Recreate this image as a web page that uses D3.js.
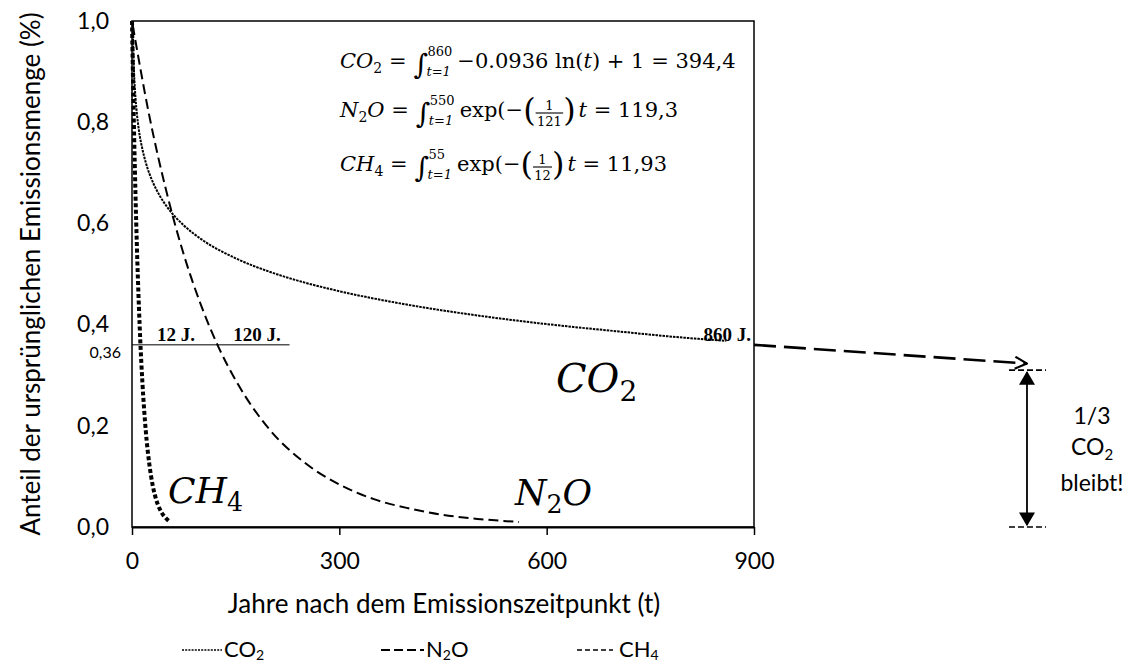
<!DOCTYPE html>
<html><head><meta charset="utf-8">
<script src="https://cdn.jsdelivr.net/npm/d3@7"></script>
<style>
body{margin:0;background:#fff;}
svg text{fill:#000; white-space:pre;}
</style></head>
<body>
<script>
// ---- data ----
const xTicks = [0, 300, 600, 900];
const yTicks = [0, 0.2, 0.4, 0.6, 0.8, 1.0];

const co2T = [1, 1.5, 2, 3, 5, 7, 10, 15, 20, 30, 40, 50, 75, 100, 150, 200, 250, 300, 400, 500, 600, 700, 800, 860];
const co2V = [1.0, 0.962, 0.935, 0.897, 0.849, 0.818, 0.784, 0.747, 0.720, 0.682, 0.655, 0.634, 0.596, 0.569, 0.531, 0.504, 0.483, 0.466, 0.439, 0.418, 0.401, 0.387, 0.374, 0.368];

const n2oT = [1, 25, 50, 75, 100, 125, 150, 200, 250, 300, 350, 400, 450, 500, 560];
const n2oV = [0.992, 0.813, 0.662, 0.538, 0.438, 0.356, 0.290, 0.191, 0.127, 0.084, 0.055, 0.037, 0.024, 0.016, 0.010];

const ch4T = [0, 1, 2, 3, 5, 7, 10, 12, 15, 20, 25, 30, 35, 40, 45, 50, 55];
const ch4V = [1.0, 0.920, 0.846, 0.779, 0.659, 0.558, 0.435, 0.368, 0.287, 0.189, 0.125, 0.082, 0.054, 0.036, 0.024, 0.016, 0.010];

const refLevel = 0.36;
const refLineEnd = 228;
const refLabels = ["12 J.", "120 J.", "860 J."];
const arrowStart = {t: 900, v: 0.36};
const arrowEnd = {t: 1295, v: 0.323};
const remainTop = 0.31;
const remainBottom = 0.0;

const W = 1133, H = 664;
const SANS = "Lato, 'Open Sans', sans-serif";
const MATH = "'DejaVu Serif', 'Liberation Serif', serif";
const BOLDSERIF = "'Liberation Serif', serif";

const svg = d3.select("body").append("svg").attr("width", W).attr("height", H);

const x = d3.scaleLinear().domain([0, 900]).range([132, 754]);
const y = d3.scaleLinear().domain([0, 1]).range([527, 21]);

// frame
svg.append("rect").attr("x", x(0)).attr("y", y(1)).attr("width", x(900) - x(0)).attr("height", y(0) - y(1))
  .attr("fill", "none").attr("stroke", "#000").attr("stroke-width", 1.5);

// x axis
const xa = svg.append("g").attr("transform", `translate(0,${y(0)})`)
  .call(d3.axisBottom(x).tickValues(xTicks).tickSize(8).tickSizeOuter(0).tickPadding(18).tickFormat(d3.format("d")));
xa.select(".domain").attr("stroke-width", 2.2);
xa.selectAll(".tick line").attr("stroke-width", 1.5);
xa.selectAll("text").attr("font-family", SANS).attr("font-size", 23);

// y axis
const ya = svg.append("g").attr("transform", `translate(${x(0)},0)`)
  .call(d3.axisLeft(y).tickValues(yTicks).tickSize(0).tickPadding(23).tickFormat(d => d3.format(".1f")(d).replace(".", ",")));
ya.select(".domain").remove();
ya.selectAll("text").attr("font-family", SANS).attr("font-size", 23);

// axis titles
svg.append("text").attr("x", 444).attr("y", 613).attr("text-anchor", "middle")
  .attr("font-family", SANS).attr("font-size", 26).text("Jahre nach dem Emissionszeitpunkt (t)");
svg.append("text").attr("transform", `translate(40,${(y(0) + y(1)) / 2}) rotate(-90)`).attr("text-anchor", "middle")
  .attr("font-family", SANS).attr("font-size", 26).text("Anteil der ursprünglichen Emissionsmenge (%)");

// curves
const line = d3.line().x(d => x(d[0])).y(d => y(d[1])).curve(d3.curveMonotoneX);
const zip = (a, b) => a.map((v, i) => [v, b[i]]);

svg.append("path").attr("d", line(zip(co2T, co2V))).attr("fill", "none").attr("stroke", "#000")
  .attr("stroke-width", 2).attr("stroke-dasharray", "2.5,1");
svg.append("path").attr("d", line(zip(n2oT, n2oV))).attr("fill", "none").attr("stroke", "#000")
  .attr("stroke-width", 2).attr("stroke-dasharray", "10,5");
svg.append("path").attr("d", line(zip(ch4T, ch4V))).attr("fill", "none").attr("stroke", "#000")
  .attr("stroke-width", 4).attr("stroke-dasharray", "4,2.5");

// reference line 0,36
svg.append("line").attr("x1", x(0)).attr("x2", x(refLineEnd)).attr("y1", y(refLevel)).attr("y2", y(refLevel))
  .attr("stroke", "#000").attr("stroke-width", 1);
svg.append("text").attr("x", 121).attr("y", y(refLevel) + 13).attr("text-anchor", "end")
  .attr("font-family", SANS).attr("font-size", 16).text("0,36");
const refPos = [{px: 176, a: "middle"}, {px: 257, a: "middle"}, {px: 751, a: "end"}];
refLabels.forEach((r, i) => {
  svg.append("text").attr("x", refPos[i].px).attr("y", y(refLevel) - 4).attr("text-anchor", refPos[i].a)
    .attr("font-family", BOLDSERIF).attr("font-weight", "bold").attr("font-size", 19).text(r);
});

// big italic labels
function chemLabel(px, py, parts, size) {
  const t = svg.append("text").attr("x", px).attr("y", py).attr("font-family", MATH).attr("font-size", size).attr("font-style", "italic");
  let down = false;
  parts.forEach(p => {
    if (p.sub) {
      t.append("tspan").attr("dy", size * 0.22).attr("font-size", size * 0.7).attr("font-style", "normal").text(p.text);
      down = true;
    } else {
      const s = t.append("tspan").text(p.text);
      if (down) { s.attr("dy", -size * 0.22); down = false; }
    }
  });
  return t;
}
chemLabel(556, 392, [{text: "CO"}, {text: "2", sub: true}], 40);
chemLabel(168, 503, [{text: "CH"}, {text: "4", sub: true}], 36);
chemLabel(515, 505, [{text: "N"}, {text: "2", sub: true}, {text: "O"}], 36);

// formulas
const FS = 21;
function piece(px, py, str, opts = {}) {
  const t = svg.append("text").attr("x", px).attr("y", py).attr("font-family", MATH)
    .attr("font-size", opts.size || FS).attr("font-style", opts.italic ? "italic" : "normal").text(str);
  if (opts.anchor) t.attr("text-anchor", opts.anchor);
  return px + t.node().getComputedTextLength();
}
function lhs(px, py, parts) {
  let cx = px;
  parts.forEach(p => {
    if (p.sub) cx = piece(cx, py + 5, p.text, {size: 14});
    else cx = piece(cx, py, p.text, {italic: true});
  });
  return piece(cx, py, " =");
}
function integral(px, py, upper) {
  piece(px, py + 6, "\u222B", {size: 28});
  const e1 = piece(px + 14, py - 12, upper, {size: 13});
  const e2 = piece(px + 13, py + 8, "t=1", {size: 13, italic: true});
  return Math.max(e1, e2);
}
function frac(px, py, den) {
  let cx = piece(px, py + 4, "(", {size: 32});
  const w = den.length * 8.5 + 2;
  piece(cx + w / 2, py - 7, "1", {size: 13, anchor: "middle"});
  svg.append("line").attr("x1", cx).attr("x2", cx + w).attr("y1", py - 4).attr("y2", py - 4).attr("stroke", "#000").attr("stroke-width", 1.1);
  piece(cx + w / 2, py + 9, den, {size: 13, anchor: "middle"});
  return piece(cx + w, py + 4, ")", {size: 32});
}
function formula(fy, left, upper, body) {
  let cx = lhs(340, fy, left);
  cx = integral(cx + 7, fy, upper);
  body(cx + 5);
}

formula(68, [{text: "CO"}, {text: "2", sub: true}], "860", bx => {
  let cx = piece(bx, 68, "\u22120.0936 ln(");
  cx = piece(cx, 68, "t", {italic: true});
  piece(cx, 68, ") + 1 = 394,4");
});
formula(117, [{text: "N"}, {text: "2", sub: true}, {text: "O"}], "550", bx => {
  let cx = piece(bx, 117, "exp(\u2212");
  cx = frac(cx, 117, "121");
  cx = piece(cx + 3, 117, "t", {italic: true});
  piece(cx, 117, " = 119,3");
});
formula(171, [{text: "CH"}, {text: "4", sub: true}], "55", bx => {
  let cx = piece(bx, 171, "exp(\u2212");
  cx = frac(cx, 171, "12");
  cx = piece(cx + 3, 171, "t", {italic: true});
  piece(cx, 171, " = 11,93");
});

// long dashed arrow to the right
const defs = svg.append("defs");
defs.append("marker").attr("id", "open").attr("viewBox", "0 0 14 14").attr("refX", 13).attr("refY", 7)
  .attr("markerWidth", 14).attr("markerHeight", 14).attr("markerUnits", "userSpaceOnUse").attr("orient", "auto")
  .append("path").attr("d", "M1,1 L13,7 L1,13").attr("fill", "none").attr("stroke", "#000").attr("stroke-width", 2.2);
defs.append("marker").attr("id", "tri").attr("viewBox", "0 0 12 14").attr("refX", 11).attr("refY", 7)
  .attr("markerWidth", 16).attr("markerHeight", 16).attr("markerUnits", "userSpaceOnUse").attr("orient", "auto-start-reverse")
  .append("path").attr("d", "M0,0 L12,7 L0,14 Z").attr("fill", "#000");

svg.append("line").attr("x1", x(arrowStart.t)).attr("y1", y(arrowStart.v)).attr("x2", x(arrowEnd.t)).attr("y2", y(arrowEnd.v))
  .attr("stroke", "#000").attr("stroke-width", 2.6).attr("stroke-dasharray", "22,8").attr("marker-end", "url(#open)");

const bxp = x(arrowEnd.t);
[remainTop, remainBottom].forEach(v => {
  svg.append("line").attr("x1", bxp - 18).attr("x2", bxp + 19).attr("y1", y(v)).attr("y2", y(v))
    .attr("stroke", "#000").attr("stroke-width", 1.6).attr("stroke-dasharray", "6,3");
});
svg.append("line").attr("x1", bxp).attr("x2", bxp).attr("y1", y(remainTop) + 2).attr("y2", y(remainBottom) - 2)
  .attr("stroke", "#000").attr("stroke-width", 1.8).attr("marker-start", "url(#tri)").attr("marker-end", "url(#tri)");

const ann = svg.append("g").attr("font-family", SANS).attr("font-size", 23).attr("text-anchor", "middle");
ann.append("text").attr("x", 1092).attr("y", 424).text("1/3");
const co2t = ann.append("text").attr("x", 1092).attr("y", 455);
co2t.append("tspan").text("CO");
co2t.append("tspan").attr("dy", 5).attr("font-size", 15).text("2");
ann.append("text").attr("x", 1092).attr("y", 491).text("bleibt!");

// legend
const legend = [
  {x1: 182, x2: 222, dash: "2,1.2", w: 1.4, name: "CO", sub: "2"},
  {x1: 381, x2: 424, dash: "9,4", w: 1.8, name: "N", sub: "2", tail: "O"},
  {x1: 577, x2: 613, dash: "5,3", w: 1.5, name: "CH", sub: "4", gap: 4}
];
const ly = 650;
legend.forEach(l => {
  svg.append("line").attr("x1", l.x1).attr("x2", l.x2).attr("y1", ly).attr("y2", ly)
    .attr("stroke", "#000").attr("stroke-width", l.w).attr("stroke-dasharray", l.dash);
  const t = svg.append("text").attr("x", l.x2 + 2 + (l.gap || 0)).attr("y", ly + 7).attr("font-family", SANS).attr("font-size", 22);
  t.append("tspan").text(l.name);
  t.append("tspan").attr("dy", 3).attr("font-size", 14).text(l.sub);
  if (l.tail) t.append("tspan").attr("dy", -3).text(l.tail);
});
</script>
</body></html>
